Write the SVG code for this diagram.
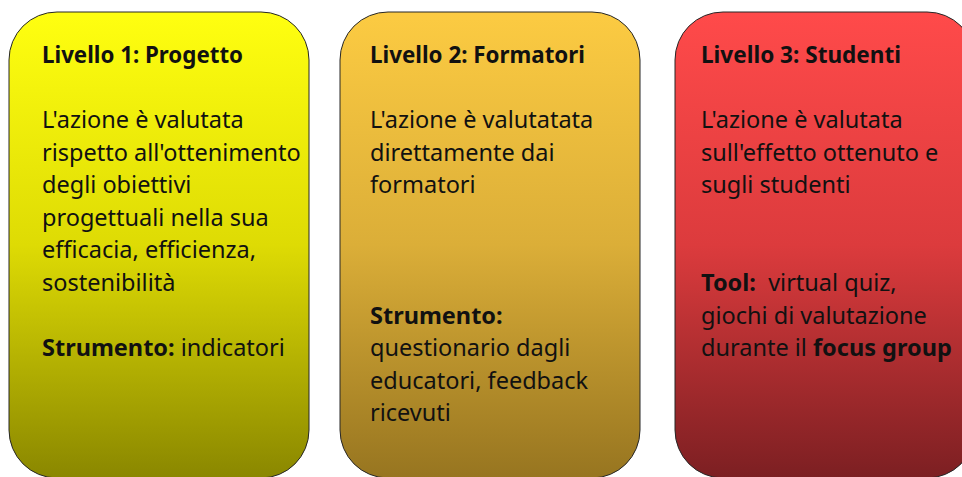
<svg xmlns="http://www.w3.org/2000/svg" width="962" height="477" viewBox="0 0 962 477">
<defs>
<linearGradient id="g1" x1="0" y1="0" x2="0" y2="1">
<stop offset="0" stop-color="#FFFF10"/>
<stop offset="0.5" stop-color="#DEDB04"/>
<stop offset="1" stop-color="#8A8700"/>
</linearGradient>
<linearGradient id="g2" x1="0" y1="0" x2="0" y2="1">
<stop offset="0" stop-color="#FCCB42"/>
<stop offset="0.5" stop-color="#DBAE38"/>
<stop offset="1" stop-color="#977520"/>
</linearGradient>
<linearGradient id="g3" x1="0" y1="0" x2="0" y2="1">
<stop offset="0" stop-color="#FF4A4A"/>
<stop offset="0.5" stop-color="#DC3B3D"/>
<stop offset="1" stop-color="#7C1F22"/>
</linearGradient>
</defs>
<style>
.box{stroke:#262626;stroke-width:1}
text{font-family:"Noto Sans","Open Sans",sans-serif;font-size:23.5px;fill:#111}
.b{font-weight:bold}
</style>
<rect width="962" height="477" fill="#fff"/>
<g id="connectors"/>
<g id="node1">
<rect class="box" x="9" y="12" width="300" height="466" rx="48" fill="url(#g1)"/>
<text x="42" y="63" class="b" textLength="201" lengthAdjust="spacingAndGlyphs">Livello 1: Progetto</text>
<text x="42" y="128">L'azione è valutata</text>
<text x="42" y="161">rispetto all'ottenimento</text>
<text x="42" y="193">degli obiettivi</text>
<text x="42" y="226">progettuali nella sua</text>
<text x="42" y="258">efficacia, efficienza,</text>
<text x="42" y="291">sostenibilità</text>
<text x="42" y="356"><tspan class="b">Strumento:</tspan> indicatori</text>
</g>
<g id="node2">
<rect class="box" x="340" y="12" width="300" height="466" rx="48" fill="url(#g2)"/>
<text x="370" y="63" class="b" textLength="215" lengthAdjust="spacingAndGlyphs">Livello 2: Formatori</text>
<text x="370" y="128">L'azione è valutatata</text>
<text x="370" y="161">direttamente dai</text>
<text x="370" y="193">formatori</text>
<text x="370" y="324" class="b">Strumento:</text>
<text x="370" y="356">questionario dagli</text>
<text x="370" y="389">educatori, feedback</text>
<text x="370" y="421">ricevuti</text>
</g>
<g id="node3">
<rect class="box" x="675" y="12" width="300" height="466" rx="48" fill="url(#g3)"/>
<text x="701" y="63" class="b" textLength="200" lengthAdjust="spacingAndGlyphs">Livello 3: Studenti</text>
<text x="701" y="128">L'azione è valutata</text>
<text x="701" y="161">sull'effetto ottenuto e</text>
<text x="701" y="193">sugli studenti</text>
<text x="701" y="291" xml:space="preserve"><tspan class="b">Tool:</tspan>  virtual quiz,</text>
<text x="701" y="324">giochi di valutazione</text>
<text x="701" y="356">durante il <tspan class="b">focus group</tspan></text>
</g>
</svg>
